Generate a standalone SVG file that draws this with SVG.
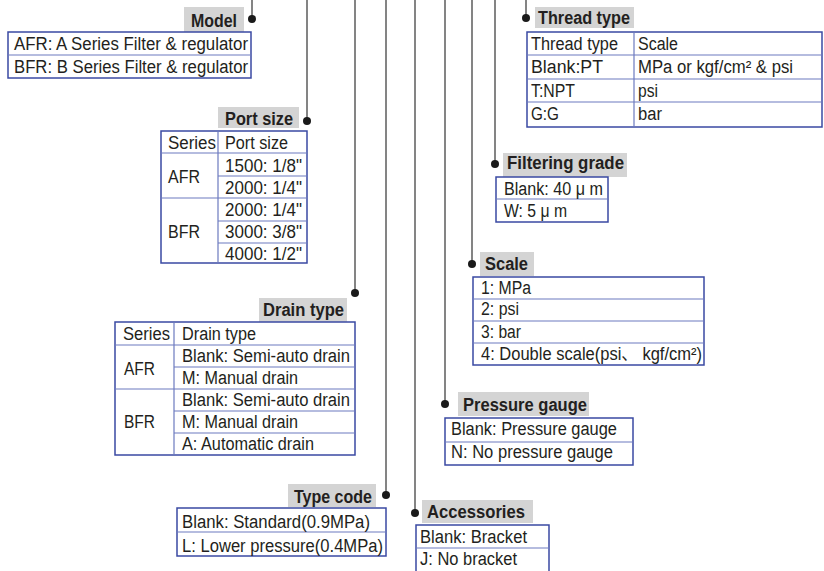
<svg xmlns="http://www.w3.org/2000/svg" width="824" height="571" viewBox="0 0 824 571">
<style>
.t{font-family:"Liberation Sans","Noto Sans CJK SC",sans-serif;font-size:18px;fill:#231f20}
.h{font-family:"Liberation Sans","Noto Sans CJK SC",sans-serif;font-size:17.5px;font-weight:bold;fill:#231f20}
.lbl{fill:#d4d4d4}
.box{fill:none;stroke:#3a49a3;stroke-width:1.5}
.in{stroke:#6c7abf;stroke-width:1.2;fill:none}
.ln{stroke:#505050;stroke-width:1.4;fill:none}
.dot{fill:#1a1a1a}
</style>
<rect width="824" height="571" fill="#fff"/>
<g id="connectors">
<line class="ln" x1="252" y1="0" x2="252" y2="19"/>
<line class="ln" x1="307" y1="0" x2="307" y2="121"/>
<line class="ln" x1="355" y1="0" x2="355" y2="293"/>
<line class="ln" x1="386" y1="0" x2="386" y2="495"/>
<line class="ln" x1="415" y1="0" x2="415" y2="513"/>
<line class="ln" x1="445" y1="0" x2="445" y2="404"/>
<line class="ln" x1="472" y1="0" x2="472" y2="264"/>
<line class="ln" x1="495" y1="0" x2="495" y2="164"/>
<line class="ln" x1="526" y1="0" x2="526" y2="18"/>
<circle class="dot" cx="252" cy="19" r="4"/>
<circle class="dot" cx="307" cy="121" r="4"/>
<circle class="dot" cx="355" cy="293" r="4"/>
<circle class="dot" cx="386" cy="495" r="4"/>
<circle class="dot" cx="415" cy="513" r="4"/>
<circle class="dot" cx="445" cy="404" r="4"/>
<circle class="dot" cx="472" cy="264" r="4"/>
<circle class="dot" cx="495" cy="164" r="4"/>
<circle class="dot" cx="526" cy="18" r="4"/>
</g>
<g id="model">
<rect class="lbl" x="184" y="7" width="60" height="25"/>
<text class="h" x="191" y="27" textLength="46" lengthAdjust="spacingAndGlyphs">Model</text>
<rect class="box" x="8" y="32" width="243" height="46"/>
<line class="in" x1="8" y1="55" x2="251" y2="55"/>
<text class="t" x="14" y="50" textLength="234" lengthAdjust="spacingAndGlyphs">AFR: A Series Filter &amp; regulator</text>
<text class="t" x="14" y="73" textLength="234" lengthAdjust="spacingAndGlyphs">BFR: B Series Filter &amp; regulator</text>
</g>
<g id="port-size">
<rect class="lbl" x="218" y="107" width="81" height="21"/>
<text class="h" x="225" y="125" textLength="68" lengthAdjust="spacingAndGlyphs">Port size</text>
<rect class="box" x="161" y="131" width="146" height="132"/>
<line class="in" x1="218" y1="131" x2="218" y2="263"/>
<line class="in" x1="161" y1="153" x2="307" y2="153"/>
<line class="in" x1="218" y1="176" x2="307" y2="176"/>
<line class="in" x1="161" y1="198" x2="307" y2="198"/>
<line class="in" x1="218" y1="221" x2="307" y2="221"/>
<line class="in" x1="218" y1="243" x2="307" y2="243"/>
<text class="t" x="168" y="149" textLength="48" lengthAdjust="spacingAndGlyphs">Series</text>
<text class="t" x="225" y="149" textLength="63" lengthAdjust="spacingAndGlyphs">Port size</text>
<text class="t" x="168" y="183" textLength="32" lengthAdjust="spacingAndGlyphs">AFR</text>
<text class="t" x="168" y="238" textLength="32" lengthAdjust="spacingAndGlyphs">BFR</text>
<text class="t" x="225" y="172" textLength="77" lengthAdjust="spacingAndGlyphs">1500: 1/8"</text>
<text class="t" x="225" y="194" textLength="77" lengthAdjust="spacingAndGlyphs">2000: 1/4"</text>
<text class="t" x="225" y="216" textLength="77" lengthAdjust="spacingAndGlyphs">2000: 1/4"</text>
<text class="t" x="225" y="238" textLength="77" lengthAdjust="spacingAndGlyphs">3000: 3/8"</text>
<text class="t" x="225" y="260" textLength="77" lengthAdjust="spacingAndGlyphs">4000: 1/2"</text>
</g>
<g id="drain-type">
<rect class="lbl" x="259" y="298" width="88" height="24"/>
<text class="h" x="263" y="316" textLength="81" lengthAdjust="spacingAndGlyphs">Drain type</text>
<rect class="box" x="115" y="322" width="240" height="133"/>
<line class="in" x1="174" y1="322" x2="174" y2="455"/>
<line class="in" x1="115" y1="345" x2="355" y2="345"/>
<line class="in" x1="174" y1="367" x2="355" y2="367"/>
<line class="in" x1="115" y1="389" x2="355" y2="389"/>
<line class="in" x1="174" y1="411" x2="355" y2="411"/>
<line class="in" x1="174" y1="433" x2="355" y2="433"/>
<text class="t" x="123" y="340" textLength="47" lengthAdjust="spacingAndGlyphs">Series</text>
<text class="t" x="182" y="340" textLength="74" lengthAdjust="spacingAndGlyphs">Drain type</text>
<text class="t" x="124" y="375" textLength="31" lengthAdjust="spacingAndGlyphs">AFR</text>
<text class="t" x="124" y="428" textLength="31" lengthAdjust="spacingAndGlyphs">BFR</text>
<text class="t" x="182" y="362" textLength="168" lengthAdjust="spacingAndGlyphs">Blank: Semi-auto drain</text>
<text class="t" x="182" y="384" textLength="116" lengthAdjust="spacingAndGlyphs">M: Manual drain</text>
<text class="t" x="182" y="406" textLength="168" lengthAdjust="spacingAndGlyphs">Blank: Semi-auto drain</text>
<text class="t" x="182" y="428" textLength="116" lengthAdjust="spacingAndGlyphs">M: Manual drain</text>
<text class="t" x="182" y="450" textLength="132" lengthAdjust="spacingAndGlyphs">A: Automatic drain</text>
</g>
<g id="type-code">
<rect class="lbl" x="288" y="484" width="88" height="23"/>
<text class="h" x="294" y="503" textLength="78" lengthAdjust="spacingAndGlyphs">Type code</text>
<rect class="box" x="177" y="508" width="209" height="48"/>
<line class="in" x1="177" y1="532" x2="386" y2="532"/>
<text class="t" x="182" y="528" textLength="188" lengthAdjust="spacingAndGlyphs">Blank: Standard(0.9MPa)</text>
<text class="t" x="182" y="552" textLength="201" lengthAdjust="spacingAndGlyphs">L: Lower pressure(0.4MPa)</text>
</g>
<g id="accessories">
<rect class="lbl" x="422" y="500" width="111" height="23"/>
<text class="h" x="427" y="518" textLength="98" lengthAdjust="spacingAndGlyphs">Accessories</text>
<rect class="box" x="416" y="525" width="133" height="52"/>
<line class="in" x1="416" y1="548" x2="549" y2="548"/>
<text class="t" x="420" y="543" textLength="107" lengthAdjust="spacingAndGlyphs">Blank: Bracket</text>
<text class="t" x="420" y="565" textLength="97" lengthAdjust="spacingAndGlyphs">J: No bracket</text>
</g>
<g id="pressure-gauge">
<rect class="lbl" x="458" y="392" width="131" height="24"/>
<text class="h" x="463" y="411" textLength="124" lengthAdjust="spacingAndGlyphs">Pressure gauge</text>
<rect class="box" x="445" y="418" width="188" height="47"/>
<line class="in" x1="445" y1="442" x2="633" y2="442"/>
<text class="t" x="451" y="435" textLength="166" lengthAdjust="spacingAndGlyphs">Blank: Pressure gauge</text>
<text class="t" x="451" y="458" textLength="162" lengthAdjust="spacingAndGlyphs">N: No pressure gauge</text>
</g>
<g id="scale">
<rect class="lbl" x="480" y="252" width="54" height="24"/>
<text class="h" x="485" y="270" textLength="43" lengthAdjust="spacingAndGlyphs">Scale</text>
<rect class="box" x="473" y="277" width="231" height="88"/>
<line class="in" x1="473" y1="299" x2="704" y2="299"/>
<line class="in" x1="473" y1="321" x2="704" y2="321"/>
<line class="in" x1="473" y1="343" x2="704" y2="343"/>
<text class="t" x="481" y="294" textLength="50" lengthAdjust="spacingAndGlyphs">1: MPa</text>
<text class="t" x="481" y="315" textLength="38" lengthAdjust="spacingAndGlyphs">2: psi</text>
<text class="t" x="481" y="338" textLength="40" lengthAdjust="spacingAndGlyphs">3: bar</text>
<text class="t" x="481" y="360" textLength="221" lengthAdjust="spacingAndGlyphs">4: Double scale(psi、 kgf/cm²)</text>
</g>
<g id="filtering-grade">
<rect class="lbl" x="503" y="153" width="124" height="24"/>
<text class="h" x="507" y="169" textLength="117" lengthAdjust="spacingAndGlyphs">Filtering grade</text>
<rect class="box" x="496" y="177" width="112" height="45"/>
<line class="in" x1="496" y1="199" x2="608" y2="199"/>
<text class="t" x="504" y="195" textLength="99" lengthAdjust="spacingAndGlyphs">Blank: 40 μ m</text>
<text class="t" x="504" y="217" textLength="63" lengthAdjust="spacingAndGlyphs">W: 5 μ m</text>
</g>
<g id="thread-type">
<rect class="lbl" x="535" y="7" width="99" height="21"/>
<text class="h" x="538" y="24" textLength="92" lengthAdjust="spacingAndGlyphs">Thread type</text>
<rect class="box" x="527" y="32" width="295" height="95"/>
<line class="in" x1="634" y1="32" x2="634" y2="127"/>
<line class="in" x1="527" y1="55" x2="822" y2="55"/>
<line class="in" x1="527" y1="79" x2="822" y2="79"/>
<line class="in" x1="527" y1="102" x2="822" y2="102"/>
<text class="t" x="531" y="50" textLength="87" lengthAdjust="spacingAndGlyphs">Thread type</text>
<text class="t" x="638" y="50" textLength="40" lengthAdjust="spacingAndGlyphs">Scale</text>
<text class="t" x="531" y="73" textLength="72" lengthAdjust="spacingAndGlyphs">Blank:PT</text>
<text class="t" x="638" y="73" textLength="155" lengthAdjust="spacingAndGlyphs">MPa or  kgf/cm² &amp; psi</text>
<text class="t" x="531" y="97" textLength="44" lengthAdjust="spacingAndGlyphs">T:NPT</text>
<text class="t" x="638" y="97" textLength="20" lengthAdjust="spacingAndGlyphs">psi</text>
<text class="t" x="531" y="120" textLength="28" lengthAdjust="spacingAndGlyphs">G:G</text>
<text class="t" x="638" y="120" textLength="24" lengthAdjust="spacingAndGlyphs">bar</text>
</g>
</svg>
